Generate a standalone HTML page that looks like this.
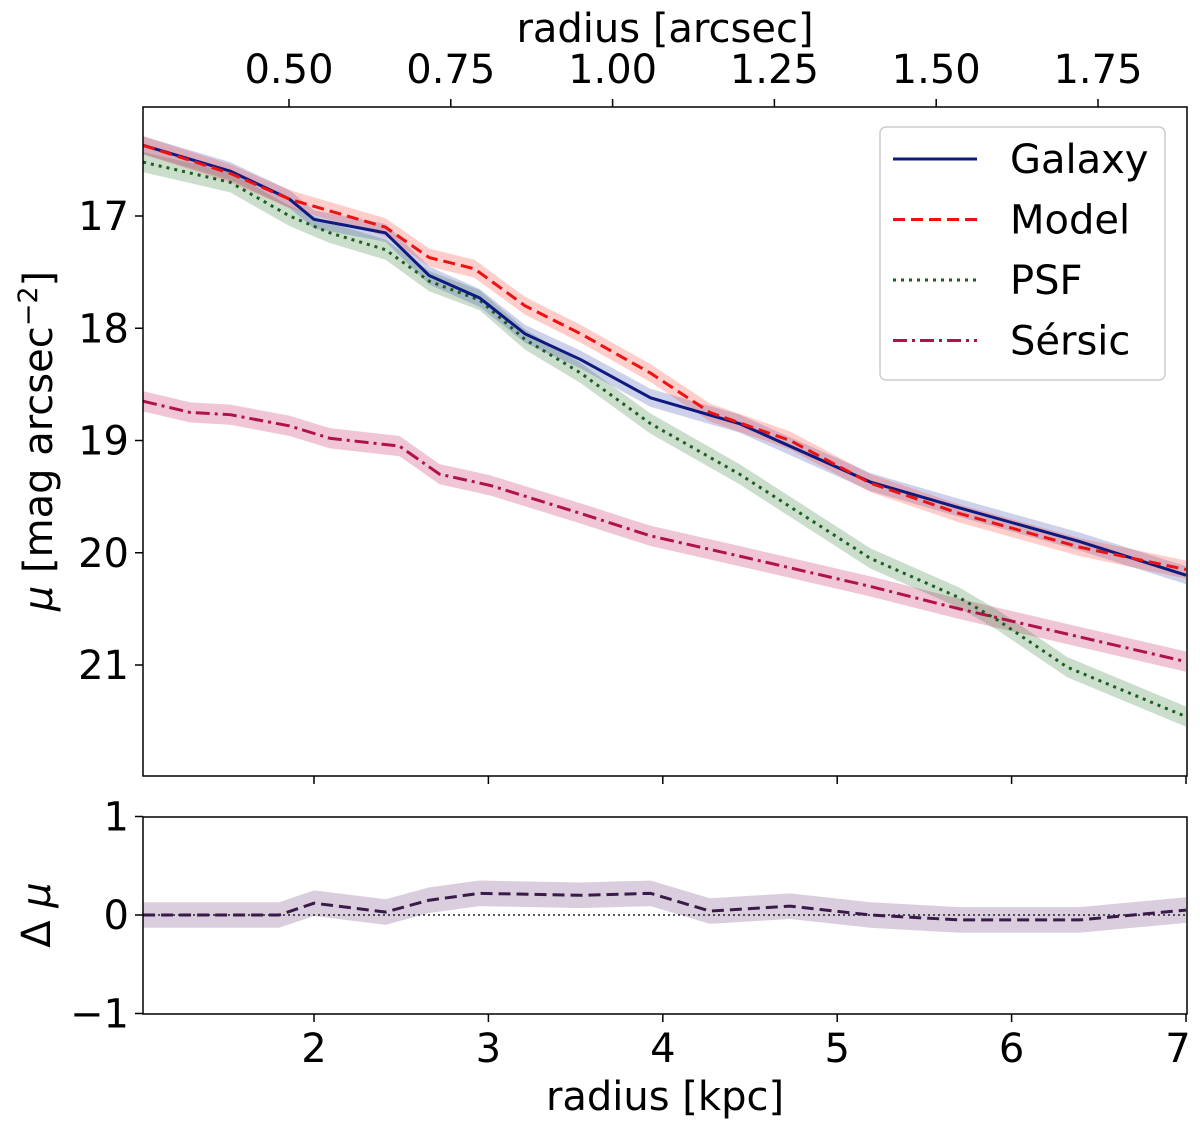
<!DOCTYPE html>
<html><head><meta charset="utf-8"><style>
html,body{margin:0;padding:0;background:#fff;}
svg{font-family:"DejaVu Sans","Liberation Sans",sans-serif;}
</style></head><body>
<svg id="c" width="1200" height="1131" viewBox="0 0 1200 1131" xmlns="http://www.w3.org/2000/svg"></svg>
<script>
const radiusKpc=[1.02,1.52,1.86,2.0,2.41,2.66,2.95,3.21,3.53,3.93,4.44,5.19,5.70,6.39,7.0];
const galaxyMag=[16.37,16.6,16.85,17.03,17.15,17.53,17.73,18.05,18.28,18.62,18.85,19.37,19.6,19.9,20.2];
const modelX=[1.02,1.52,1.86,2.41,2.66,2.92,3.21,3.53,3.93,4.27,4.73,5.19,5.70,6.39,7.0];
const modelMag=[16.37,16.62,16.85,17.1,17.37,17.47,17.8,18.05,18.4,18.75,19.0,19.38,19.65,19.95,20.15];
const psfX=[1.02,1.52,1.86,2.09,2.41,2.66,2.95,3.21,3.53,3.93,4.44,5.19,5.70,5.92,6.32,7.0];
const psfMag=[16.52,16.7,17.0,17.15,17.3,17.58,17.75,18.1,18.4,18.85,19.3,20.05,20.4,20.6,21.02,21.46];
const sersicX=[1.02,1.29,1.52,1.86,2.09,2.49,2.72,3.01,3.53,3.93,4.44,5.19,5.70,6.39,7.0];
const sersicMag=[18.65,18.75,18.77,18.87,18.98,19.05,19.3,19.4,19.65,19.85,20.03,20.3,20.5,20.75,20.97];
const residX=[1.02,1.80,2.0,2.41,2.66,2.95,3.53,3.93,4.27,4.73,5.19,5.70,6.39,7.0];
const residVal=[0,0,0.12,0.03,0.15,0.22,0.2,0.22,0.04,0.09,0,-0.05,-0.05,0.05];
const xTicks=[2,3,4,5,6,7];
const yTicks=[17,18,19,20,21];
const rTicks=[-1,0,1];
const arcTicks=["0.50","0.75","1.00","1.25","1.50","1.75"];

const svg=document.getElementById('c');const NS='http://www.w3.org/2000/svg';
function el(t,a,p){const e=document.createElementNS(NS,t);for(const k in a)e.setAttribute(k,a[k]);(p||svg).appendChild(e);return e;}
const L=143,R=1187,T=107,B=776,T2=817,B2=1014;
const X=k=>139.6+(k-1)*174.4;
const Y=m=>216+(m-17)*112.25;
const Y2=v=>915-v*98.5;
const AX=a=>289+(a-0.5)*647.2;
function band(xs,ys,fy,h,color,name){let up=xs.map((x,i)=>X(x)+','+fy(ys[i]-h)),dn=xs.map((x,i)=>X(x)+','+fy(ys[i]+h)).reverse();
 const p=el('polygon',{points:up.concat(dn).join(' '),fill:color,'fill-opacity':0.25,stroke:'none'});
 }
function line(xs,ys,fy,color,dash,name,w){const p=el('polyline',{points:xs.map((x,i)=>X(x)+','+fy(ys[i])).join(' '),fill:'none',stroke:color,'stroke-width':w||3,'stroke-dasharray':dash||'none'});
 }
const clip=el('clipPath',{id:'cp'});el('rect',{x:L,y:T,width:R-L,height:B-T},clip);
const clip2=el('clipPath',{id:'cp2'});el('rect',{x:L,y:T2,width:R-L,height:B2-T2},clip2);
const g=el('g',{'clip-path':'url(#cp)'});
const before=svg.childNodes.length;
band(sersicX,sersicMag,Y,0.09,'#c2185b','sersic-band');
band(psfX,psfMag,Y,0.09,'#2e7d32','psf-band');
band(radiusKpc,galaxyMag,Y,0.08,'#3949ab','galaxy-band');
band(modelX,modelMag,Y,0.08,'#ff3b30','model-band');
line(sersicX,sersicMag,Y,'#b0124a','14,5,3,5','sersic-line');
line(psfX,psfMag,Y,'#1b5e20','3,5','psf-line');
line(radiusKpc,galaxyMag,Y,'#0d1a80','none','galaxy-line');
line(modelX,modelMag,Y,'#ee1111','12,6','model-line');
Array.from(svg.childNodes).slice(before).forEach(n=>g.appendChild(n));
const g2=el('g',{'clip-path':'url(#cp2)'});const b2=svg.childNodes.length;
band(residX,residVal,Y2,0.13,'#6a3d7a','residual-band');
const zl=el('line',{x1:L,x2:R,y1:Y2(0),y2:Y2(0),stroke:'#222','stroke-width':1.5,'stroke-dasharray':'2,3'});


line(residX,residVal,Y2,'#3a1a4a','12,6','residual-line');
Array.from(svg.childNodes).slice(b2).forEach(n=>g2.appendChild(n));
const f1=el('rect',{x:L,y:T,width:R-L,height:B-T,fill:'none',stroke:'#000','stroke-width':1.5});


const f2=el('rect',{x:L,y:T2,width:R-L,height:B2-T2,fill:'none',stroke:'#000','stroke-width':1.5});


function txt(x,y,s,anchor,size,name,rot){const t=el('text',{x:x,y:y,'text-anchor':anchor,'font-size':size,fill:'#000'});t.textContent=s;if(rot)t.setAttribute('transform',`rotate(-90 ${x} ${y})`);return t;}
xTicks.forEach(k=>{el('line',{x1:X(k),x2:X(k),y1:B,y2:B+8,stroke:'#000','stroke-width':1.5});el('line',{x1:X(k),x2:X(k),y1:B2,y2:B2+8,stroke:'#000','stroke-width':1.5});txt(X(k)-(k==7?8:0),B2+48,String(k),'middle',40,'x-tick-label');});
yTicks.forEach(m=>{el('line',{x1:L-8,x2:L,y1:Y(m),y2:Y(m),stroke:'#000','stroke-width':1.5});txt(L-14,Y(m)+14,String(m),'end',40,'y-tick-label');});
rTicks.forEach(v=>{el('line',{x1:L-8,x2:L,y1:Y2(v),y2:Y2(v),stroke:'#000','stroke-width':1.5});txt(L-14,Y2(v)+14,v<0?'\u2212'+(-v):String(v),'end',40,'residual-tick-label');});
arcTicks.forEach(a=>{const x=AX(parseFloat(a));el('line',{x1:x,x2:x,y1:T-8,y2:T,stroke:'#000','stroke-width':1.5});txt(x,T-24,a,'middle',40,'top-tick-label');});
txt(665,1110,'radius [kpc]','middle',40,'x-axis-title');
txt(665,42,'radius [arcsec]','middle',40,'top-axis-title');
const yt=txt(52,441,'','middle',40,'y-axis-title',true);yt.innerHTML='<tspan font-style="italic">μ</tspan> [mag arcsec<tspan baseline-shift="super" font-size="27">−2</tspan>]';
const rt=txt(50,915,'','middle',40,'residual-axis-title',true);rt.innerHTML='Δ <tspan font-style="italic">μ</tspan>';
const lg=el('g',{});
el('rect',{x:880,y:127,width:285,height:253,rx:6,fill:'#fff','fill-opacity':0.8,stroke:'#ccc','stroke-width':1.5},lg);
const legs=[['Galaxy','#0d1a80','none'],['Model','#ee1111','12,6'],['PSF','#1b5e20','3,5'],['Sérsic','#b0124a','14,5,3,5']];
legs.forEach((d,i)=>{const y=159+i*60.5;el('line',{x1:893,x2:977,y1:y,y2:y,stroke:d[1],'stroke-width':3,'stroke-dasharray':d[2]},lg);const t=txt(1010,y+14,d[0],'start',40,'legend-entry');lg.appendChild(t);});
</script>
</body></html>
